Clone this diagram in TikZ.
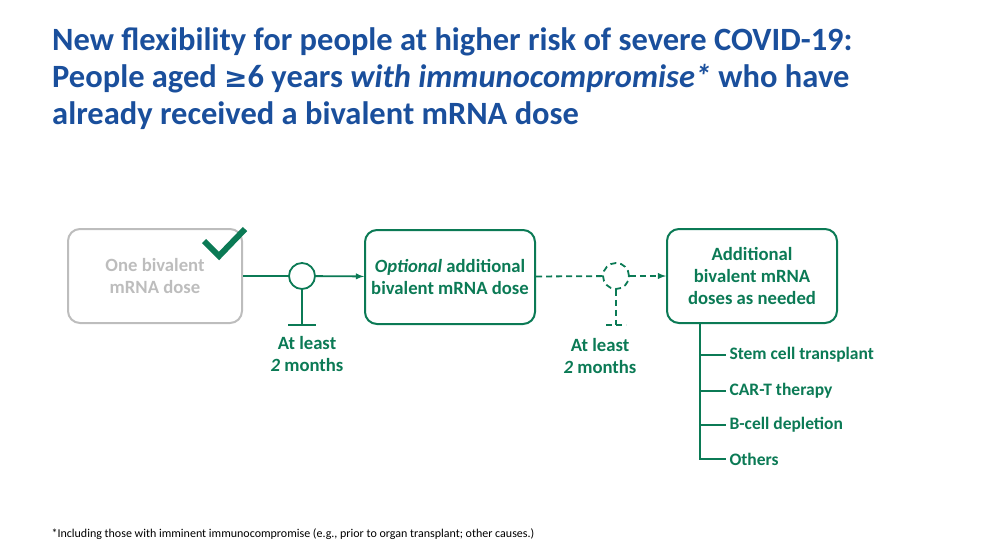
\documentclass[tikz,border=0pt]{standalone}
\usepackage{fontspec}
\setmainfont{Carlito}
\newfontfamily\symfont{DejaVu Sans}
\definecolor{titleblue}{HTML}{1A4F9C}
\definecolor{doseGreen}{HTML}{0B7A55}
\definecolor{doneGray}{HTML}{BDBDBD}
\tikzset{
  dosebox/.style={draw=doseGreen, line width=2pt, rounded corners=12pt, minimum width=170pt, minimum height=94pt, align=center, text=doseGreen, font=\fontsize{18.7}{22}\selectfont\bfseries},
  gaplabel/.style={align=center, text=doseGreen, font=\fontsize{18.7}{22}\selectfont\bfseries},
  riskitem/.style={anchor=west, text=doseGreen, font=\fontsize{17.5}{21}\selectfont\bfseries},
  link/.style={draw=doseGreen, line width=1.8pt},
  gapdash/.style={dash pattern=on 6pt off 4pt}
}
\begin{document}
\begin{tikzpicture}[x=1pt, y=-1pt, >=latex]
  \useasboundingbox (0,0) rectangle (990,542);
  % title
  \node[anchor=north west, align=left, text=titleblue, font=\fontsize{32.5}{37}\selectfont\bfseries, inner sep=0pt] (title) at (52,27)
    {New flexibility for people at higher risk of severe COVID-19:\\
     People aged {\symfont\fontsize{28}{37}\selectfont ≥}6 years \textit{with immunocompromise*} who have\\
     already received a bivalent mRNA dose};

  % doses
  \node[dosebox, draw=doneGray, text=doneGray, minimum width=174pt] (first) at (155,276) {One bivalent\\mRNA dose};
  \node[dosebox] (optional) at (450,277) {\textit{Optional} additional\\bivalent mRNA dose};
  \node[dosebox] (more) at (752,276) {Additional\\bivalent mRNA\\doses as needed};

  % check mark
  \draw[doseGreen, line width=6pt] (204,241) -- (219,256) -- (245,229);

  % intervals
  \node[draw=doseGreen, line width=1.8pt, circle, minimum size=26pt, inner sep=0pt] (wait1) at (302,276) {};
  \node[draw=doseGreen, line width=1.8pt, gapdash, circle, minimum size=26pt, inner sep=0pt] (wait2) at (616,276) {};
  \draw[link] (first) -- (wait1);
  \draw[link, ->] (wait1) -- (optional);
  \draw[link, gapdash] (optional) -- (wait2);
  \draw[link, gapdash, ->] (wait2) -- (more);
  \coordinate (foot1) at (302,325);
  \coordinate (foot2) at (616,325);
  \draw[link] (wait1) -- (foot1);
  \draw[link] ([xshift=-14pt]foot1) -- ([xshift=14pt]foot1);
  \draw[link, gapdash] (wait2) -- (foot2);
  \draw[link, gapdash] ([xshift=-10pt]foot2) -- ([xshift=10pt]foot2);
  \node[gaplabel] (gap1) at (307,354) {At least\\\textit{2} months};
  \node[gaplabel] (gap2) at (600,356) {At least\\\textit{2} months};

  % conditions
  \coordinate (branch) at (700,460);
  \draw[link] (more.south -| branch) -- (branch);
  \foreach \Y/\T/\N in {355/{Stem cell transplant}/stem, 391/{CAR-T therapy}/cart, 425/{B-cell depletion}/bcell, 459/{Others}/others} {
    \node[riskitem] (\N) at (726,\Y) {\T};
    \draw[link] (700,\Y) -- (\N.west);
  }

  % footnote
  \node[anchor=west, font=\fontsize{12}{14}\selectfont] (note) at (48,534)
    {*Including those with imminent immunocompromise (e.g., prior to organ transplant; other causes.)};
\end{tikzpicture}
\end{document}
